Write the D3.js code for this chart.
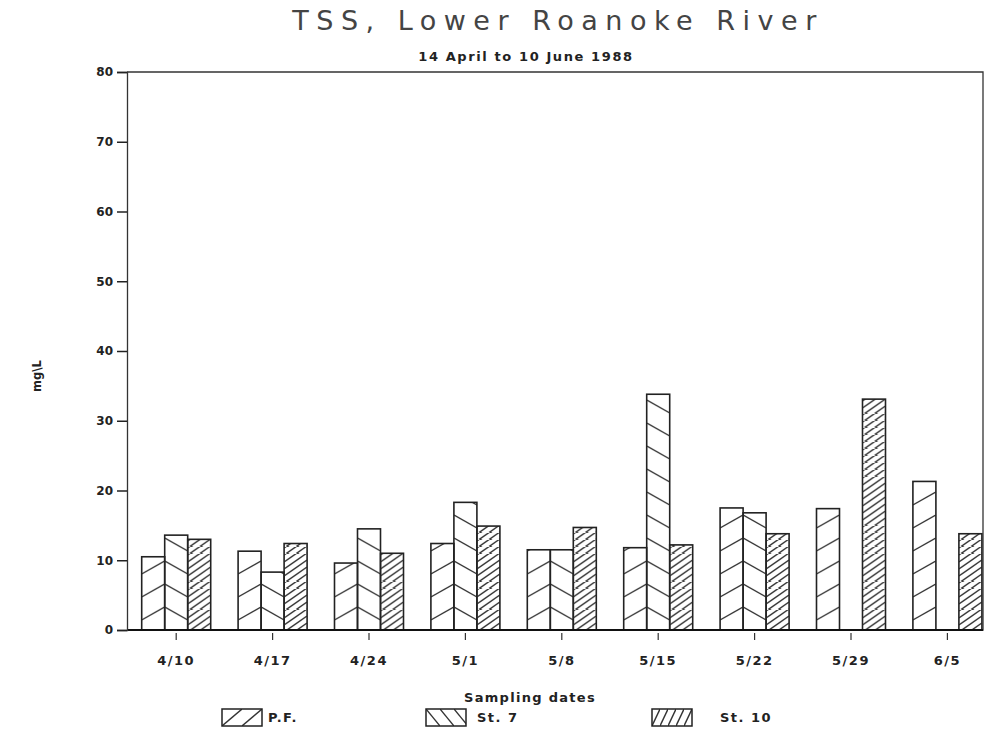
<!DOCTYPE html>
<html>
<head>
<meta charset="utf-8">
<style>
  body { margin: 0; background: #fff; }
  text { font-family: "DejaVu Sans", sans-serif; fill: #222; }
  .tick text { font-weight: bold; font-size: 12px; }
  .xaxis .tick text { font-size: 13px; letter-spacing: 1.5px; }
</style>
</head>
<body>
<svg width="984" height="730"></svg>
<script src="https://cdn.jsdelivr.net/npm/d3@7/dist/d3.min.js"></script>
<script>

var dates = ["4/10", "4/17", "4/24", "5/1", "5/8", "5/15", "5/22", "5/29", "6/5"];
var seriesKeys = ["pf", "st7", "st10"];
var seriesNames = ["P.F.", "St. 7", "St. 10"];
var pf   = [10.5, 11.3, 9.6, 12.4, 11.5, 11.8, 17.5, 17.4, 21.3];
var st7  = [13.6, 8.3, 14.5, 18.3, 11.5, 33.8, 16.8, null, null];
var st10 = [13.0, 12.4, 11.0, 14.9, 14.7, 12.2, 13.8, 33.1, 13.8];
var yTicks = [0, 10, 20, 30, 40, 50, 60, 70, 80];

// hatch styles: vertical period, rise across a bar, direction
var hatch = {
  pf:   {period: 23, rise: 13, dir: 1,  legendTile: 20},
  st7:  {period: 23, rise: 13, dir: -1, legendTile: 14},
  st10: {period: 7,  rise: 16, dir: 1,  legendTile: 8}
};

var svg = d3.select("svg"),
    m = {left: 127, right: 983, top: 72, bottom: 630},
    defs = svg.append("defs");

var x = d3.scaleBand()
    .domain(dates)
    .range([m.left + 1, m.left + 1 + 9 * 96.4]);

var groupW = 69,
    x1 = d3.scaleBand()
    .domain(seriesKeys)
    .range([x.bandwidth() / 2 - groupW / 2, x.bandwidth() / 2 + groupW / 2]);

var y = d3.scaleLinear()
    .domain([0, 80])
    .range([m.bottom, m.top]);

var values = {pf: pf, st7: st7, st10: st10};
var bars = [];
dates.forEach(function(d, i) {
  seriesKeys.forEach(function(k) {
    var v = values[k][i];
    if (v != null) bars.push({date: d, i: i, key: k, value: v});
  });
});

function hatchPattern(id, k, px, py, w) {
  var h = hatch[k], P = h.period, r = h.rise;
  var p = defs.append("pattern")
      .attr("id", id)
      .attr("patternUnits", "userSpaceOnUse")
      .attr("x", px).attr("y", py)
      .attr("width", w).attr("height", P);
  var n = Math.ceil(r / P) + 1;
  for (var j = -n; j <= n; j++) {
    p.append("line")
        .attr("x1", 0).attr("x2", w)
        .attr("y1", h.dir > 0 ? r + j * P : j * P)
        .attr("y2", h.dir > 0 ? j * P : r + j * P)
        .attr("stroke", "#333")
        .attr("stroke-width", 1.4);
  }
}

// title
svg.append("text")
    .attr("x", 558).attr("y", 30)
    .attr("text-anchor", "middle")
    .style("font-size", "27px")
    .style("letter-spacing", "7.5px")
    .style("fill", "#444")
    .text("TSS, Lower Roanoke River");

svg.append("text")
    .attr("x", 526).attr("y", 61)
    .attr("text-anchor", "middle")
    .style("font-size", "13px")
    .style("letter-spacing", "1.6px")
    .style("font-weight", "bold")
    .text("14 April to 10 June 1988");

// bars
svg.append("g")
  .selectAll("rect")
  .data(bars)
  .enter().append("rect")
    .attr("x", function(d) { return x(d.date) + x1(d.key); })
    .attr("y", function(d) { return y(d.value); })
    .attr("width", x1.bandwidth())
    .attr("height", function(d) { return y(0) - y(d.value); })
    .attr("fill", function(d) {
      var id = "h" + d.i + d.key;
      hatchPattern(id, d.key, x(d.date) + x1(d.key), y(0), x1.bandwidth());
      return "url(#" + id + ")";
    })
    .attr("stroke", "#222")
    .attr("stroke-width", 1.6);

// frame
svg.append("path")
    .attr("d", "M" + m.left + "," + m.top + "H" + m.right + "V" + m.bottom + "H" + m.left)
    .attr("fill", "none")
    .attr("stroke", "#333")
    .attr("stroke-width", 1.3);

svg.append("line")
    .attr("x1", m.left).attr("x2", m.right)
    .attr("y1", m.bottom).attr("y2", m.bottom)
    .attr("stroke", "#111")
    .attr("stroke-width", 2);

// axes
var yAxis = svg.append("g")
    .attr("transform", "translate(" + m.left + ",0)")
    .call(d3.axisLeft(y).tickValues(yTicks).tickSize(10).tickPadding(4));
yAxis.select(".domain").attr("stroke", "#333").attr("stroke-width", 1.3);
yAxis.selectAll(".tick line").attr("stroke", "#222").attr("stroke-width", 1.5);

var xAxis = svg.append("g")
    .attr("class", "xaxis")
    .attr("transform", "translate(0," + (m.bottom + 3) + ")")
    .call(d3.axisBottom(x).tickSize(7).tickPadding(16));
xAxis.select(".domain").remove();
xAxis.selectAll(".tick line").attr("stroke", "#333").attr("stroke-width", 1.2);

svg.append("text")
    .attr("transform", "translate(41,376) rotate(-90)")
    .attr("text-anchor", "middle")
    .style("font-size", "11.5px")
    .style("font-weight", "bold")
    .text("mg\\L");

svg.append("text")
    .attr("x", 530).attr("y", 702)
    .attr("text-anchor", "middle")
    .style("font-size", "13px")
    .style("letter-spacing", "1.3px")
    .style("font-weight", "bold")
    .text("Sampling dates");

// legend
var legendX = [222, 426, 652],
    textX = [268, 477, 720];
seriesKeys.forEach(function(k, i) {
  var id = "leg" + k, sw = 40, sh = 17, h = hatch[k];
  var p = defs.append("pattern")
      .attr("id", id)
      .attr("patternUnits", "userSpaceOnUse")
      .attr("x", legendX[i]).attr("y", 709)
      .attr("width", h.legendTile).attr("height", sh);
  p.append("line")
      .attr("x1", 0).attr("x2", h.legendTile)
      .attr("y1", h.dir > 0 ? sh : 0)
      .attr("y2", h.dir > 0 ? 0 : sh)
      .attr("stroke", "#333").attr("stroke-width", 1.4);
  svg.append("rect")
      .attr("x", legendX[i]).attr("y", 709)
      .attr("width", sw).attr("height", sh)
      .attr("fill", "url(#" + id + ")")
      .attr("stroke", "#222").attr("stroke-width", 1.5);
  svg.append("text")
      .attr("x", textX[i]).attr("y", 722)
      .style("font-size", "13px")
      .style("letter-spacing", "1.5px")
      .style("font-weight", "bold")
      .text(seriesNames[i]);
});

</script>
</body>
</html>
